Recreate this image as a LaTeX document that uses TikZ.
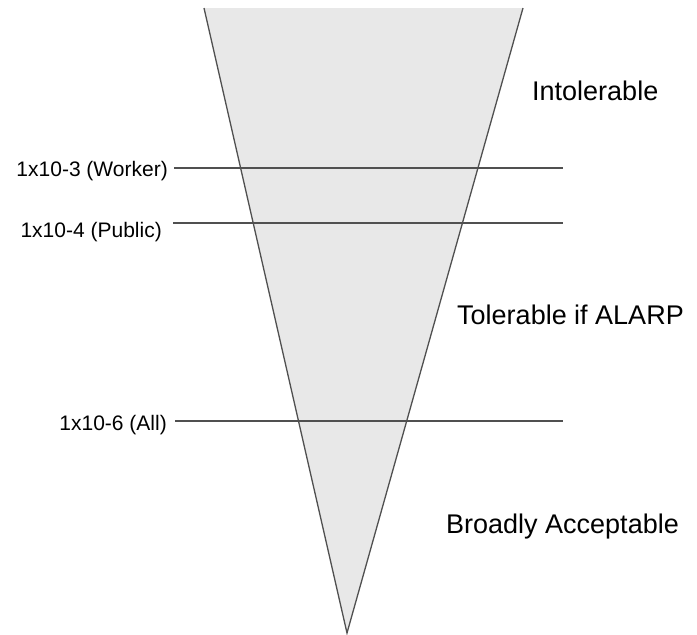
\documentclass[tikz,border=0pt]{standalone}
\usepackage{fontspec}
\setmainfont{Liberation Sans}
\definecolor{conefill}{HTML}{E8E8E8}
\definecolor{lineclr}{HTML}{505050}
\begin{document}
\begin{tikzpicture}[x=1pt,y=-1pt,
  edge/.style={draw=lineclr,line width=1.3pt},
  leftlab/.style={anchor=base east,inner sep=0pt,font=\fontsize{21}{24}\selectfont},
  zonelab/.style={anchor=base west,inner sep=0pt,font=\fontsize{27}{32}\selectfont}]
\useasboundingbox (0,0) rectangle (697,635);
\coordinate (tl) at (204,8);
\coordinate (tr) at (523,8);
\coordinate (apex) at (347,633);
\fill[conefill] (tl) -- (tr) -- (apex) -- cycle;
\draw[edge] (tl) -- (apex) -- (tr);
% risk lines
\coordinate (w1) at (174,168); \coordinate (w2) at (563,168);
\coordinate (p1) at (173,223); \coordinate (p2) at (563,223);
\coordinate (a1) at (175,421); \coordinate (a2) at (563,421);
\draw[edge] (w1) -- (w2);
\draw[edge] (p1) -- (p2);
\draw[edge] (a1) -- (a2);
\node[leftlab] (lw) at (168,176) {1x10-3 (Worker)};
\node[leftlab] (lp) at (162,237) {1x10-4 (Public)};
\node[leftlab] (la) at (167,430) {1x10-6 (All)};
\node[zonelab] (zi) at (532,100) {Intolerable};
\node[zonelab] (zt) at (457,324) {Tolerable if ALARP};
\node[zonelab] (zb) at (446,533) {Broadly Acceptable};
\end{tikzpicture}
\end{document}
